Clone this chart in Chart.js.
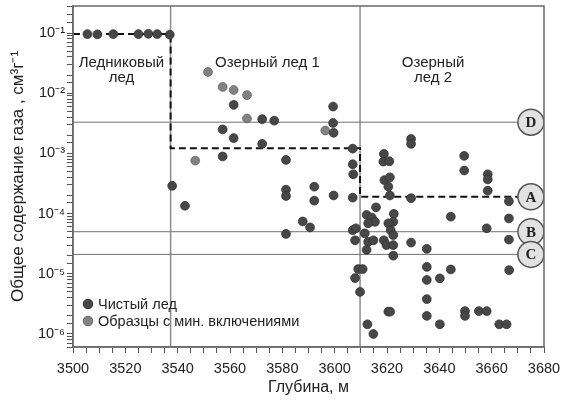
<!DOCTYPE html>
<html>
<head>
<meta charset="utf-8">
<script src="https://cdn.jsdelivr.net/npm/chart.js@4.4.1/dist/chart.umd.min.js"></script>
<style>
  body { margin: 0; background: #fff; }
</style>
</head>
<body>
<canvas id="gasChart" width="563" height="400"></canvas>
<script>
// ---------- Data ----------
const cleanDepth = [
  3505.5, 3509.3, 3515.4, 3525.0, 3528.8, 3532.2, 3537.0,
  3537.9, 3542.8, 3557.2, 3557.2, 3561.4, 3561.4, 3572.3, 3572.3, 3576.9,
  3581.4, 3581.4, 3581.4, 3581.4, 3587.8, 3590.6, 3592.2, 3592.2,
  3599.4, 3599.4, 3599.6, 3599.6, 3606.9, 3606.9, 3607.1, 3606.9,
  3606.9, 3608.1, 3607.8, 3609.0, 3610.7, 3607.8, 3609.7,
  3618.8, 3618.6, 3620.9, 3629.2, 3629.2, 3619.0, 3621.1, 3620.5, 3621.1, 3629.2,
  3615.8, 3612.2, 3614.2, 3615.4, 3612.8, 3611.5, 3612.8, 3614.8, 3612.2,
  3622.6, 3622.4, 3620.5, 3621.4, 3622.4, 3618.8, 3619.8, 3622.4, 3622.4,
  3629.2, 3635.2, 3635.2, 3635.2, 3640.2, 3644.4, 3635.2, 3635.2, 3640.2,
  3620.5, 3621.2, 3612.5, 3614.8, 3649.8, 3649.8, 3655.1, 3658.1, 3662.9, 3665.7,
  3644.4, 3658.1, 3666.6, 3666.6, 3666.7, 3666.6,
  3649.5, 3649.5, 3658.5, 3658.5, 3658.5
];
const cleanGas = [
  0.096, 0.095, 0.096, 0.096, 0.097, 0.096, 0.094,
  2.9e-4, 1.35e-4, 8.9e-4, 2.5e-3, 6.4e-3, 1.8e-3, 3.7e-3, 1.44e-3, 3.5e-3,
  7.8e-4, 2.5e-4, 1.96e-4, 4.6e-5, 7.4e-5, 5.9e-5, 2.8e-4, 1.64e-4,
  6.0e-3, 3.2e-3, 2.2e-3, 2.0e-4, 1.2e-3, 6.6e-4, 4.5e-4, 1.84e-4,
  5.3e-5, 5.7e-5, 3.6e-5, 1.2e-5, 1.2e-5, 8.5e-6, 5.0e-6,
  9.8e-4, 7.3e-4, 7.4e-4, 1.74e-3, 1.44e-3, 3.6e-4, 4.0e-4, 2.8e-4, 2.0e-4, 1.8e-4,
  1.27e-4, 9.5e-5, 8.6e-5, 7.3e-5, 6.9e-5, 4.7e-5, 3.4e-5, 3.6e-5, 2.5e-5,
  9.9e-5, 7.3e-5, 6.9e-5, 5.3e-5, 4.4e-5, 3.6e-5, 3.0e-5, 3.0e-5, 2.0e-5,
  3.3e-5, 2.6e-5, 1.3e-5, 7.9e-6, 8.4e-6, 1.18e-5, 3.8e-6, 2.0e-6, 1.45e-6,
  2.35e-6, 2.35e-6, 1.45e-6, 1.0e-6, 2.4e-6, 2.0e-6, 2.4e-6, 2.4e-6, 1.45e-6, 1.45e-6,
  8.9e-5, 5.7e-5, 8.3e-5, 3.7e-5, 1.15e-5, 1.6e-4,
  9.1e-4, 5.2e-4, 4.5e-4, 3.7e-4, 2.4e-4
];
const mineralDepth = [3546.7, 3551.6, 3557.2, 3561.4, 3566.5, 3566.5, 3596.4];
const mineralGas = [7.6e-4, 0.0225, 0.0127, 0.0113, 0.0093, 0.0038, 0.0024];

// dashed mean-content steps
const stepDepth = [3500, 3537.3, 3537.3, 3609.7, 3609.7, 3675];
const stepGas = [0.096, 0.096, 1.22e-3, 1.22e-3, 1.9e-4, 1.9e-4];

// zone boundaries and reference levels
const boundaryDepth = [3537.3, 3609.7];
const levelNames = ['D', 'A', 'B', 'C'];
const levelGas = [3.3e-3, 1.9e-4, 5.0e-5, 2.1e-5];
const markerDepth = 3675;

const zoneNames = [['Ледниковый', 'лед'], ['Озерный лед 1'], ['Озерный', 'лед 2']];
const zoneNameDepth = [3518.5, 3574.3, 3637.6];
const zoneNameGas = 0.032;

const yTickExp = [-6, -5, -4, -3, -2, -1];
const yTickLabels = ['10⁻⁶', '10⁻⁵', '10⁻⁴', '10⁻³', '10⁻²', '10⁻¹'];

const Y_MIN = 6.08e-7, Y_MAX = 0.281;

// ---------- Helpers ----------
const pairs = (xs, ys) => xs.map((v, i) => ({ x: v, y: ys[i] }));

const FONT = '"Liberation Sans", Arial, sans-serif';
const DARK = '#474747';
const GREY = '#828282';

function lineSet(data, color, width, dash, order) {
  return {
    data: data, showLine: true, pointRadius: 0, borderColor: color,
    borderWidth: width, borderDash: dash || [], order: order, fill: false
  };
}

// ---------- Overlay (frame, captions, letters, legend) ----------
const overlay = {
  id: 'overlay',
  afterDatasetsDraw(chart) {
    const { ctx, chartArea: a, scales: { x, y } } = chart;
    ctx.save();

    ctx.strokeStyle = '#6a6a6a';
    ctx.lineWidth = 1.5;
    ctx.strokeRect(a.left, a.top, a.right - a.left, a.bottom - a.top);

    ctx.fillStyle = '#222';
    ctx.font = '15px ' + FONT;
    ctx.textAlign = 'center';
    ctx.textBaseline = 'middle';
    zoneNames.forEach((lines, i) => {
      const px = x.getPixelForValue(zoneNameDepth[i]);
      const py = y.getPixelForValue(zoneNameGas);
      lines.forEach((t, j) => ctx.fillText(t, px, py + j * 15));
    });

    ctx.font = 'bold 15px "Liberation Serif", "DejaVu Serif", serif';
    levelNames.forEach((t, i) => {
      ctx.fillText(t, x.getPixelForValue(markerDepth), y.getPixelForValue(levelGas[i]) + 1);
    });

    // legend
    const items = chart.data.datasets.filter(d => d.inLegend);
    ctx.font = '14.5px ' + FONT;
    ctx.textAlign = 'left';
    items.forEach((d, i) => {
      const cy = a.bottom - 43 + i * 17;
      ctx.beginPath();
      ctx.arc(a.left + 15, cy, 4.8, 0, Math.PI * 2);
      ctx.fillStyle = d.backgroundColor;
      ctx.fill();
      ctx.lineWidth = 1;
      ctx.strokeStyle = d.borderColor;
      ctx.stroke();
      ctx.fillStyle = '#222';
      ctx.fillText(d.label, a.left + 25, cy + 1);
    });

    ctx.restore();
  }
};

// ---------- Chart ----------
const datasets = [
  {
    label: 'markers', data: levelGas.map(g => ({ x: markerDepth, y: g })),
    pointRadius: 13, backgroundColor: '#e2e2e2', borderColor: '#555', borderWidth: 1.5, order: 0
  },
  {
    label: 'Чистый лед', inLegend: true, data: pairs(cleanDepth, cleanGas),
    pointRadius: 4.4, backgroundColor: DARK, borderColor: '#333', borderWidth: 0.8, order: 1
  },
  {
    label: 'Образцы с мин. включениями', inLegend: true, data: pairs(mineralDepth, mineralGas),
    pointRadius: 4.4, backgroundColor: GREY, borderColor: '#666', borderWidth: 0.8, order: 2
  },
  lineSet(pairs(stepDepth, stepGas), '#111', 2, [7, 4], 3),
  lineSet([{ x: 3500, y: levelGas[0] }, { x: markerDepth, y: levelGas[0] }], '#707070', 1, null, 4),
  lineSet([{ x: 3500, y: levelGas[2] }, { x: markerDepth, y: levelGas[2] }], '#707070', 1, null, 4),
  lineSet([{ x: 3500, y: levelGas[3] }, { x: markerDepth, y: levelGas[3] }], '#707070', 1, null, 4),
  ...boundaryDepth.map(d => lineSet([{ x: d, y: Y_MAX }, { x: d, y: Y_MIN }], '#8c8c8c', 1.5, null, 5))
];

new Chart(document.getElementById('gasChart'), {
  type: 'scatter',
  data: { datasets: datasets },
  plugins: [overlay],
  options: {
    responsive: false,
    animation: false,
    events: [],
    layout: { autoPadding: false, padding: { top: 6, right: 19, left: 0, bottom: 0 } },
    plugins: { legend: { display: false }, tooltip: { enabled: false } },
    scales: {
      x: {
        type: 'linear', min: 3500, max: 3680,
        ticks: {
          stepSize: 5, autoSkip: false, maxRotation: 0, padding: 7,
          color: '#222', font: { family: FONT, size: 14.5 },
          callback: v => (v % 20 === 0 ? String(v) : '')
        },
        grid: { drawOnChartArea: false, tickLength: 6, color: '#555' },
        border: { color: '#6a6a6a', width: 1.5 },
        title: {
          display: true, text: 'Глубина, м', color: '#222',
          font: { family: FONT, size: 16 }, padding: { top: 0, bottom: 3 }
        },
        afterFit: s => { s.height = 53; s.paddingLeft = 0; s.paddingRight = 0; }
      },
      y: {
        type: 'logarithmic', min: Y_MIN, max: Y_MAX,
        ticks: {
          autoSkip: false, padding: 2, color: '#222', font: { family: FONT, size: 14.5 },
          callback: v => {
            const e = Math.log10(v);
            const k = yTickExp.findIndex(t => Math.abs(t - e) < 1e-6);
            return k >= 0 ? yTickLabels[k] : '';
          }
        },
        grid: { drawOnChartArea: false, tickLength: 6, color: '#555' },
        border: { color: '#6a6a6a', width: 1.5 },
        title: {
          display: true, text: 'Общее содержание газа , см³г⁻¹', color: '#222',
          font: { family: FONT, size: 17 }, padding: { top: 8, bottom: 0 }
        },
        afterFit: s => { s.width = 73; s.paddingTop = 0; s.paddingBottom = 0; }
      }
    }
  }
});
</script>
</body>
</html>
